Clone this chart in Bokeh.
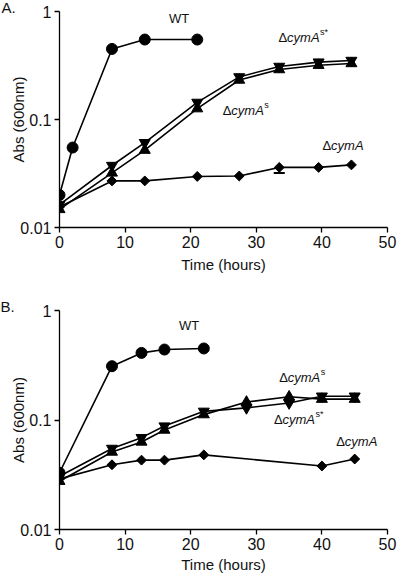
import numpy as np
from bokeh.plotting import figure
from bokeh.layouts import column
from bokeh.models import (Range1d, FixedTicker, CustomJSTickFormatter, Label,
                          Whisker, TeeHead, ColumnDataSource)
from bokeh.embed import file_html
from bokeh.resources import INLINE

# ---------------- Panel A data ----------------
a_wt_t = [0, 2, 8, 13, 21]
a_wt_v = [0.020, 0.055, 0.45, 0.55, 0.55]
a_mut_t = [0, 8, 13, 21, 27.4, 33.5, 39.5, 44.5]
a_sstar_v = [0.0163, 0.0375, 0.061, 0.144, 0.248, 0.31, 0.34, 0.352]   # inverted triangles
a_s_v = [0.0147, 0.032, 0.052, 0.126, 0.232, 0.29, 0.318, 0.33]        # triangles
a_cyma_v = [0.0155, 0.027, 0.027, 0.0297, 0.030, 0.036, 0.036, 0.038]  # diamonds
a_err_t = [33.5]
a_err_lo = [0.032]
a_err_hi = [0.036]

# ---------------- Panel B data ----------------
b_wt_t = [0, 8, 12.5, 16, 22]
b_wt_v = [0.033, 0.31, 0.41, 0.44, 0.45]
b_mut_t = [0, 8, 12.5, 16, 22, 28.5, 35, 40, 45]
b_sstar_v = [0.0306, 0.055, 0.069, 0.088, 0.12, 0.129, 0.143, 0.165, 0.165]  # inverted triangles
b_s_v = [0.0276, 0.051, 0.063, 0.081, 0.112, 0.146, 0.163, 0.155, 0.155]      # triangles
b_cyma_t = [0, 8, 12.5, 16, 22, 40, 45]
b_cyma_v = [0.029, 0.039, 0.043, 0.043, 0.048, 0.038, 0.044]

x_ticks = [0, 10, 20, 30, 40, 50]
y_ticks = [0.01, 0.1, 1]

FONT = "Liberation Sans"
TXT = "#111111"


def make_fig(height, left, right, top, bottom, panel, xlab_standoff):
    p = figure(width=400, height=height, x_range=Range1d(0, 50), y_range=Range1d(0.01, 1),
               y_axis_type="log", output_backend="svg", toolbar_location=None,
               min_border_left=left, min_border_right=right,
               min_border_top=top, min_border_bottom=bottom,
               x_axis_label="Time (hours)", y_axis_label="Abs (600nm)")
    p.title.text = panel
    p.title.align = "left"
    p.title.offset = -left
    p.title.standoff = -9
    p.title.text_font = FONT
    p.title.text_font_size = "15px"
    p.title.text_font_style = "normal"
    p.title.text_color = TXT
    p.xgrid.visible = False
    p.ygrid.visible = False
    p.outline_line_color = None
    p.background_fill_color = "white"
    p.border_fill_color = "white"
    p.xaxis.ticker = FixedTicker(ticks=x_ticks)
    p.yaxis.ticker = FixedTicker(ticks=y_ticks)
    p.yaxis.formatter = CustomJSTickFormatter(code="return tick.toString()")
    for ax in (p.xaxis[0], p.yaxis[0]):
        ax.axis_line_color = "black"
        ax.axis_line_width = 1.3
        ax.major_tick_line_color = "black"
        ax.major_tick_line_width = 1.3
        ax.major_tick_in = 0
        ax.major_tick_out = 5
        ax.minor_tick_line_color = None
        ax.major_label_text_font = FONT
        ax.major_label_text_font_size = "16px"
        ax.major_label_text_color = TXT
        ax.major_label_standoff = 3
        ax.axis_label_text_font = FONT
        ax.axis_label_text_font_size = "15px"
        ax.axis_label_text_font_style = "normal"
        ax.axis_label_text_color = TXT
    p.yaxis.axis_label_standoff = -10
    p.xaxis.axis_label_standoff = xlab_standoff
    return p


def txt(p, x, y, s, size="13px", style="normal", xo=0, yo=0):
    p.add_layout(Label(x=x, y=y, text=s, x_offset=xo, y_offset=yo, text_font=FONT,
                       text_font_size=size, text_font_style=style, text_color=TXT,
                       text_align="left", text_baseline="middle"))


def strain_label(p, x, y, sup):
    txt(p, x, y, "\u0394")
    txt(p, x, y, "cymA", style="italic", xo=8.5)
    if sup:
        txt(p, x, y, sup, size="9px", xo=41.5, yo=6)


def draw(p, wt_t, wt_v, mut_t, sstar_v, s_v, cy_t, cy_v):
    lw = 1.6
    p.line(cy_t, cy_v, line_color="black", line_width=lw)
    p.scatter(cy_t, cy_v, marker="square", angle=np.pi / 4, size=7,
              fill_color="black", line_color="black")
    p.line(mut_t, s_v, line_color="black", line_width=lw)
    p.line(mut_t, sstar_v, line_color="black", line_width=lw)
    p.scatter(mut_t, s_v, marker="triangle", size=11, fill_color="black", line_color="black")
    p.scatter(mut_t, sstar_v, marker="inverted_triangle", size=11,
              fill_color="black", line_color="black")
    p.line(wt_t, wt_v, line_color="black", line_width=lw)
    p.scatter(wt_t, wt_v, marker="circle", size=11, fill_color="black", line_color="black")


# ---------------- Panel A ----------------
pa = make_fig(298, 58, 13, 11, 71, "A.", 5)
draw(pa, a_wt_t, a_wt_v, a_mut_t, a_sstar_v, a_s_v, a_mut_t, a_cyma_v)
err_src = ColumnDataSource(dict(t=a_err_t, lo=a_err_lo, hi=a_err_hi))
pa.add_layout(Whisker(source=err_src, base="t", lower="lo", upper="hi", dimension="height",
                      upper_head=None,
                      lower_head=TeeHead(size=11, line_width=2, line_color="black"),
                      line_color="black", line_width=1.5))
txt(pa, 16.7, 0.86, "WT")
strain_label(pa, 33.4, 0.574, "s*")
strain_label(pa, 24.9, 0.121, "s")
strain_label(pa, 40.1, 0.0575, None)

# ---------------- Panel B ----------------
pb = make_fig(279, 59, 8, 12, 48, "B.", 3)
draw(pb, b_wt_t, b_wt_v, b_mut_t, b_sstar_v, b_s_v, b_cyma_t, b_cyma_v)
txt(pb, 18.2, 0.73, "WT")
strain_label(pb, 33.5, 0.244, "s")
strain_label(pb, 32.7, 0.101, "s*")
strain_label(pb, 42.2, 0.0637, None)

layout = column(pa, pb, spacing=0)
open("out.html", "w").write(file_html(layout, INLINE))
